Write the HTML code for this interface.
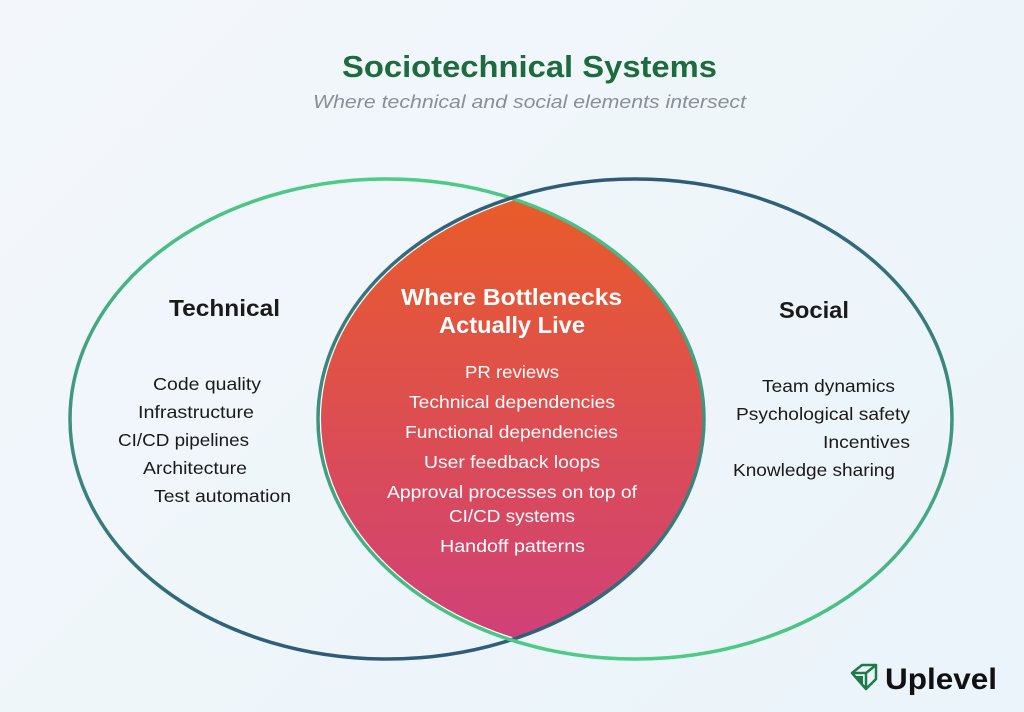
<!DOCTYPE html>
<html><head><meta charset="utf-8"><style>
html,body{margin:0;padding:0}
body{width:1024px;height:712px;background:linear-gradient(135deg,#f3f7fb,#eaf4fa);font-family:"Liberation Sans",sans-serif;position:relative;overflow:hidden}
</style></head><body>
<svg width="1024" height="712" viewBox="0 0 1024 712" style="position:absolute;left:0;top:0" font-family="Liberation Sans, sans-serif">
<defs>
<linearGradient id="gl" x1="0" y1="0" x2="0" y2="1"><stop offset="0" stop-color="#4ccc86"/><stop offset="1" stop-color="#2f5a78"/></linearGradient>
<linearGradient id="gr" x1="0" y1="0" x2="0" y2="1"><stop offset="0" stop-color="#2f5a78"/><stop offset="1" stop-color="#4ccc86"/></linearGradient>
<linearGradient id="gf" x1="0" y1="0" x2="0" y2="1"><stop offset="0" stop-color="#ea5d26"/><stop offset="1" stop-color="#cf3f7c"/></linearGradient>
<clipPath id="cl"><ellipse cx="387" cy="419" rx="317" ry="240"/></clipPath>
</defs>
<text x="342" y="77" textLength="375" lengthAdjust="spacingAndGlyphs" font-size="31" font-weight="bold" fill="#1e6b3e">Sociotechnical Systems</text>
<text x="313" y="108" textLength="433" lengthAdjust="spacingAndGlyphs" font-size="18.5" font-style="italic" fill="#8a8f96">Where technical and social elements intersect</text>
<ellipse cx="635" cy="419" rx="317" ry="240" fill="url(#gf)" clip-path="url(#cl)"/>
<ellipse cx="635" cy="419" rx="315" ry="238" fill="none" stroke="#fff" stroke-width="2" clip-path="url(#cl)"/>
<ellipse cx="387" cy="419" rx="317" ry="240" fill="none" stroke="url(#gl)" stroke-width="3.5"/>
<ellipse cx="635" cy="419" rx="317" ry="240" fill="none" stroke="url(#gr)" stroke-width="3.5"/>
<text x="169" y="316" textLength="111" lengthAdjust="spacingAndGlyphs" font-size="23" font-weight="bold" fill="#1a1a1a">Technical</text>
<g font-size="17.5" fill="#1a1a1a">
<text x="153" y="390" textLength="108" lengthAdjust="spacingAndGlyphs">Code quality</text>
<text x="138" y="418" textLength="116" lengthAdjust="spacingAndGlyphs">Infrastructure</text>
<text x="118" y="446" textLength="131" lengthAdjust="spacingAndGlyphs">CI/CD pipelines</text>
<text x="143" y="474" textLength="104" lengthAdjust="spacingAndGlyphs">Architecture</text>
<text x="154" y="502" textLength="137" lengthAdjust="spacingAndGlyphs">Test automation</text>
</g>
<text x="779" y="318" textLength="70" lengthAdjust="spacingAndGlyphs" font-size="23" font-weight="bold" fill="#1a1a1a">Social</text>
<g font-size="17.5" fill="#1a1a1a">
<text x="762" y="392" textLength="133" lengthAdjust="spacingAndGlyphs">Team dynamics</text>
<text x="736" y="420" textLength="174" lengthAdjust="spacingAndGlyphs">Psychological safety</text>
<text x="823" y="448" textLength="87" lengthAdjust="spacingAndGlyphs">Incentives</text>
<text x="733" y="476" textLength="162" lengthAdjust="spacingAndGlyphs">Knowledge sharing</text>
</g>
<g fill="#fff">
<text x="401" y="305" textLength="221" lengthAdjust="spacingAndGlyphs" font-size="23" font-weight="bold">Where Bottlenecks</text>
<text x="439" y="333" textLength="146" lengthAdjust="spacingAndGlyphs" font-size="23" font-weight="bold">Actually Live</text>
<g font-size="17.5">
<text x="465" y="378" textLength="94" lengthAdjust="spacingAndGlyphs">PR reviews</text>
<text x="409" y="408" textLength="206" lengthAdjust="spacingAndGlyphs">Technical dependencies</text>
<text x="405" y="438" textLength="213" lengthAdjust="spacingAndGlyphs">Functional dependencies</text>
<text x="424" y="468" textLength="176" lengthAdjust="spacingAndGlyphs">User feedback loops</text>
<text x="387" y="498" textLength="250" lengthAdjust="spacingAndGlyphs">Approval processes on top of</text>
<text x="449" y="522" textLength="126" lengthAdjust="spacingAndGlyphs">CI/CD systems</text>
<text x="440" y="552" textLength="145" lengthAdjust="spacingAndGlyphs">Handoff patterns</text>
</g></g>
<g transform="translate(850,663)">
<path d="M2 10 L12 2 L26 2 L26 16 L16 26" fill="none" stroke="#1e7a46" stroke-width="2.5" stroke-linejoin="round"/>
<path d="M2 10 L16 10 L16 26 Z" fill="none" stroke="#1e7a46" stroke-width="2.5" stroke-linejoin="round"/>
<path d="M16 10 L26 2" stroke="#1e7a46" stroke-width="2.5"/>
<path d="M4 13 L13 13 L13 22 Z" fill="#1e7a46"/>
</g>
<text x="885" y="689" textLength="112" lengthAdjust="spacingAndGlyphs" font-size="30" font-weight="bold" fill="#111">Uplevel</text>
</svg>
</body></html>
